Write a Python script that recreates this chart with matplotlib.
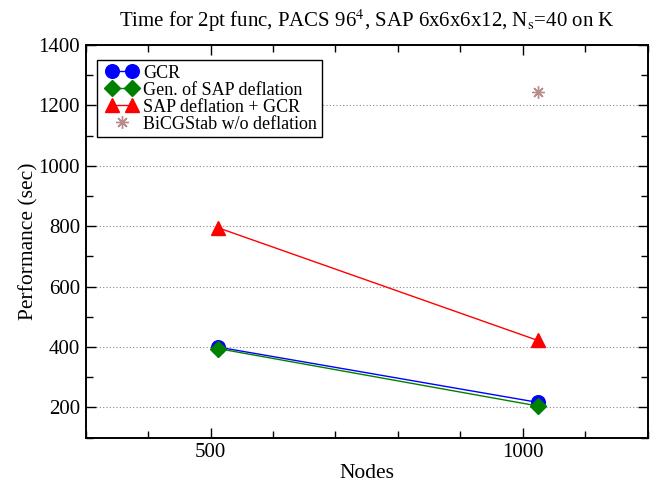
import matplotlib

matplotlib.use("Agg")
import matplotlib.pyplot as plt
from matplotlib.legend_handler import HandlerLine2D
from matplotlib.lines import Line2D
from matplotlib.ticker import FixedLocator, MultipleLocator

plt.rcParams["font.family"] = ["Liberation Serif", "DejaVu Serif"]
plt.rcParams["mathtext.fontset"] = "stix"

# ---- 数据----
nodes = [512, 1024]
gcr = [400, 217]
gen_sap = [395, 205]
sap_gcr = [795, 422]
bicg_nodes = [1024]
bicg = [1245]

fig = plt.figure(figsize=(6.54, 4.82), dpi=100)
ax = fig.add_axes([85.7 / 654, 1 - 437.7 / 482, (647.7 - 85.7) / 654, (437.7 - 45) / 482])

ax.plot(nodes, gcr, color="blue", lw=1.0, marker="o", ms=9.8, label="GCR", zorder=3)
ax.plot(nodes, gen_sap, color="green", lw=1.0, marker="D", ms=8.5, label="Gen. of SAP deflation", zorder=4)
ax.plot(nodes, sap_gcr, color="red", lw=1.0, marker="^", ms=10.5, label="SAP deflation + GCR", zorder=3)
(star,) = ax.plot(bicg_nodes, bicg, color="#b98c8c", lw=0, marker=(8, 2, 0), ms=9, mew=1.0,
                  label="BiCGStab w/o deflation", zorder=3)

ax.set_xlim(300, 1200)
ax.set_ylim(100, 1400)
ax.xaxis.set_major_locator(FixedLocator([500, 1000]))
ax.xaxis.set_minor_locator(MultipleLocator(100))
ax.yaxis.set_major_locator(MultipleLocator(200))
ax.yaxis.set_minor_locator(MultipleLocator(100))
ax.tick_params(which="both", direction="in", top=True, right=True, labelsize=15, width=1.0)
ax.tick_params(which="major", length=7, pad=4)
ax.tick_params(which="minor", length=5)
for s in ax.spines.values():
    s.set_linewidth(1.4)

ax.yaxis.grid(True, which="major", ls=(0, (1, 2)), color="#888888", lw=0.8)
ax.set_axisbelow(True)

ax.set_xlabel("Nodes", fontsize=15.5, labelpad=1)
ax.set_ylabel("Performance (sec)", fontsize=15.5, labelpad=0)
ax.set_title("Time for 2pt func, PACS 96$^4$, SAP 6x6x6x12, N$_\\mathrm{s}$=40 on K",
             fontsize=15, pad=13)

# 图例：折线每项两个标记，星号只画一个
leg = ax.legend(loc="upper left", bbox_to_anchor=(11.3 / 562, 1 - 15 / 392.7), fontsize=13,
                fancybox=False, edgecolor="black", framealpha=1, borderpad=0.25,
                labelspacing=0.0, handlelength=2.27, handletextpad=0.05, borderaxespad=0,
                handler_map={Line2D: HandlerLine2D(numpoints=2, marker_pad=0.58),
                             star: HandlerLine2D(numpoints=1)})
leg.get_frame().set_linewidth(1.0)

fig.savefig("out.png", dpi=100)
